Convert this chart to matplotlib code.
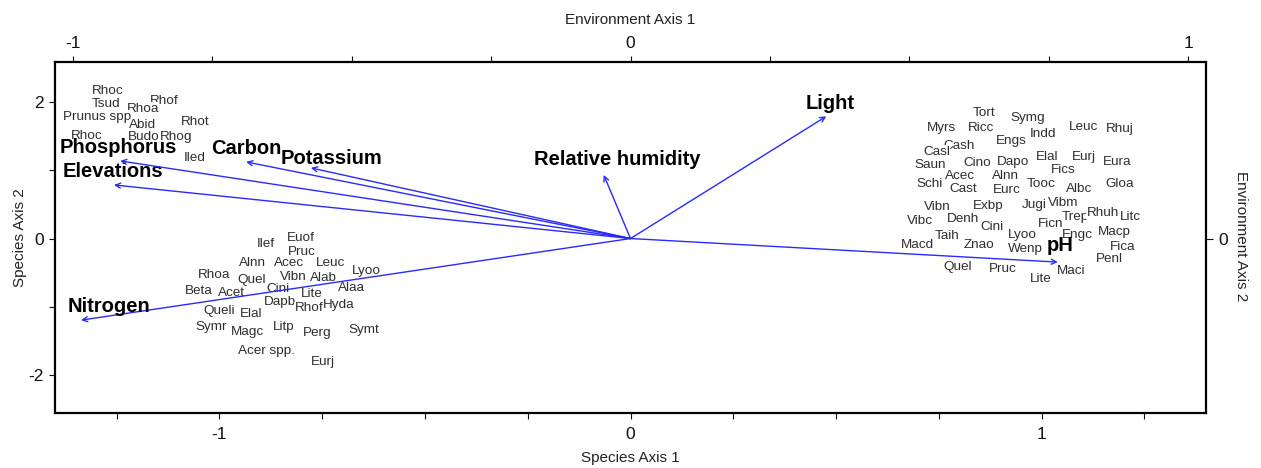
import matplotlib
matplotlib.use("Agg")
import matplotlib.pyplot as plt
from matplotlib.ticker import MultipleLocator, FixedLocator

plt.rcParams['font.family'] = ['Liberation Sans', 'DejaVu Sans']
plt.rcParams['axes.unicode_minus'] = False

# species scores (Species Axis 1 / Species Axis 2)
species_names = [
    'Rhoc', 'Tsud', 'Rhof', 'Rhoa', 'Prunus spp', 'Abid', 'Rhot', 'Rhoc', 'Budo', 'Rhog', 'Iled',
    'Ilef', 'Euof', 'Pruc', 'Alnn', 'Acec', 'Leuc', 'Rhoa', 'Quel', 'Vibn', 'Alab', 'Lyoo',
    'Beta', 'Acet', 'Cini', 'Lite', 'Alaa', 'Dapb', 'Rhof', 'Hyda', 'Queli', 'Elal', 'Symr',
    'Magc', 'Litp', 'Perg', 'Symt', 'Acer spp.', 'Eurj',
    'Tort', 'Symg', 'Myrs', 'Ricc', 'Indd', 'Leuc', 'Rhuj', 'Cash', 'Engs', 'Casl', 'Saun',
    'Cino', 'Dapo', 'Elal', 'Eurj', 'Eura', 'Fics', 'Acec', 'Alnn', 'Schi', 'Cast', 'Eurc',
    'Tooc', 'Albc', 'Gloa', 'Vibn', 'Exbp', 'Jugi', 'Vibm', 'Vibc', 'Denh', 'Cini', 'Trep',
    'Rhuh', 'Litc', 'Ficn', 'Taih', 'Lyoo', 'Engc', 'Macp', 'Macd', 'Znao', 'Wenp', 'Fica',
    'Penl', 'Quel', 'Pruc', 'Maci', 'Lite',
]
species_x = [
    -1.271, -1.276, -1.135, -1.186, -1.298, -1.186, -1.060, -1.322, -1.183, -1.106, -1.060,
    -0.887, -0.802, -0.800, -0.919, -0.831, -0.729, -1.013, -0.921, -0.821, -0.746, -0.642,
    -1.050, -0.970, -0.858, -0.775, -0.680, -0.853, -0.782, -0.710, -1.001, -0.923, -1.021,
    -0.933, -0.843, -0.761, -0.649, -0.885, -0.748,
    0.860, 0.967, 0.756, 0.853, 1.004, 1.103, 1.191, 0.800, 0.926, 0.744, 0.729,
    0.843, 0.931, 1.013, 1.103, 1.183, 1.052, 0.802, 0.911, 0.727, 0.809, 0.916,
    0.999, 1.091, 1.191, 0.746, 0.870, 0.982, 1.052, 0.705, 0.809, 0.880, 1.081,
    1.149, 1.217, 1.021, 0.770, 0.953, 1.086, 1.176, 0.697, 0.848, 0.960, 1.198,
    1.166, 0.797, 0.906, 1.072, 0.999,
]
species_y = [
    2.16, 1.97, 2.01, 1.90, 1.78, 1.66, 1.71, 1.50, 1.49, 1.49, 1.18,
    -0.08, 0.01, -0.20, -0.36, -0.36, -0.36, -0.53, -0.61, -0.56, -0.58, -0.48,
    -0.77, -0.80, -0.74, -0.81, -0.72, -0.93, -1.02, -0.97, -1.06, -1.11, -1.30,
    -1.37, -1.30, -1.38, -1.33, -1.65, -1.81,
    1.84, 1.76, 1.62, 1.62, 1.53, 1.63, 1.60, 1.35, 1.43, 1.27, 1.08,
    1.11, 1.12, 1.19, 1.19, 1.12, 1.00, 0.92, 0.92, 0.80, 0.72, 0.71,
    0.80, 0.72, 0.80, 0.46, 0.48, 0.49, 0.52, 0.26, 0.29, 0.17, 0.31,
    0.37, 0.31, 0.21, 0.04, 0.05, 0.05, 0.10, -0.10, -0.10, -0.15, -0.12,
    -0.30, -0.42, -0.45, -0.48, -0.59,
]

# environmental variables (Environment Axis 1 / Environment Axis 2)
env_names = ['Light', 'Relative humidity', 'pH', 'Nitrogen', 'Elevations',
             'Phosphorus', 'Carbon', 'Potassium']
env_x = [0.351, -0.048, 0.766, -0.985, -0.926, -0.915, -0.689, -0.573]
env_y = [1.316, 0.685, -0.254, -0.879, 0.577, 0.836, 0.825, 0.761]

# label placement relative to the arrow tip (points)
env_label_offsets = [(3, 9.5), (10, 11), (1.5, 12), (20, 9.5), (-1, 9.5), (-1.5, 9.5), (0, 10), (15, 6.5)]

sp_xlim = (-1.4, 1.4)
sp_ylim = (-2.55, 2.58)
env_scale = 1.357

fig = plt.figure(figsize=(12.61, 4.68), dpi=100)
rect = [55 / 1261, 55 / 468, 1151 / 1261, 351 / 468]
ax = fig.add_axes(rect)
env = fig.add_axes(rect, frameon=False)
env.patch.set_alpha(0)

# species labels
for name, x, y in zip(species_names, species_x, species_y):
    ax.text(x, y, name, ha='center', va='center', fontsize=9.7, color='#2e2e2e',
            bbox=dict(boxstyle='square,pad=0.02', fc='white', ec='none'))

ax.set_xlim(*sp_xlim)
ax.set_ylim(*sp_ylim)
ax.xaxis.set_major_locator(FixedLocator([-1, 0, 1]))
ax.xaxis.set_minor_locator(MultipleLocator(0.25))
ax.yaxis.set_major_locator(FixedLocator([-2, 0, 2]))
ax.yaxis.set_minor_locator(FixedLocator([-1, 1]))
ax.tick_params(axis='x', which='both', direction='out', length=4, width=0.8,
               pad=6, labelsize=12.5, colors='#111111')
ax.tick_params(axis='y', which='both', direction='out', length=4, width=0.8,
               pad=4, labelsize=12.5, colors='#111111')
for s in ax.spines.values():
    s.set_linewidth(1.6)

# environment arrows
env.set_xlim(sp_xlim[0] / env_scale, sp_xlim[1] / env_scale)
env.set_ylim(sp_ylim[0] / env_scale, sp_ylim[1] / env_scale)
env.xaxis.set_ticks_position('top')
env.yaxis.set_ticks_position('right')
env.xaxis.set_major_locator(FixedLocator([-1, 0, 1]))
env.xaxis.set_minor_locator(MultipleLocator(0.25))
env.yaxis.set_major_locator(FixedLocator([0]))
env.tick_params(axis='x', which='both', direction='out', length=4, width=0.8,
                pad=4, labelsize=12.5, colors='#111111')
env.tick_params(axis='y', which='both', direction='out', length=5, width=0.8,
                pad=4, labelsize=12.5, colors='#111111')

for name, x, y, off in zip(env_names, env_x, env_y, env_label_offsets):
    env.annotate('', xy=(x, y), xytext=(0, 0),
                 arrowprops=dict(arrowstyle='->', color='#2a2aff', lw=1.0,
                                 shrinkA=0, shrinkB=0, mutation_scale=9))
    env.annotate(name, xy=(x, y), xytext=off, textcoords='offset points',
                 ha='center', va='center', fontsize=14.5, fontweight='bold',
                 color='black')

fig.text(630 / 1261, 1 - 458 / 468, 'Species Axis 1', ha='center', va='center',
         fontsize=11, color='#222222')
fig.text(630 / 1261, 1 - 20 / 468, 'Environment Axis 1', ha='center', va='center',
         fontsize=11, color='#222222')
fig.text(20 / 1261, 1 - 238 / 468, 'Species Axis 2', ha='center', va='center',
         rotation=90, fontsize=11, color='#222222')
fig.text(1241 / 1261, 1 - 236 / 468, 'Environment Axis 2', ha='center', va='center',
         rotation=-90, fontsize=11, color='#222222')

fig.savefig('out.png', dpi=100)
